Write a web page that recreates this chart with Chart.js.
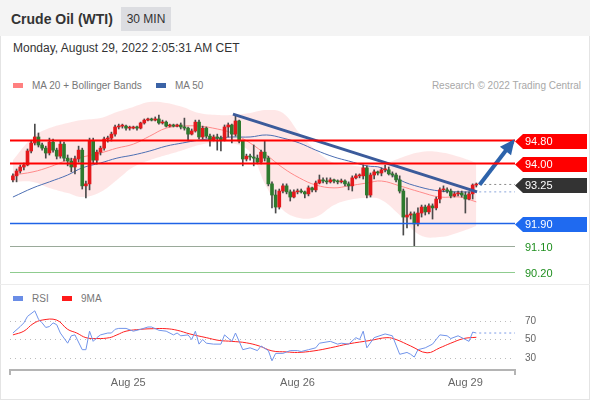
<!DOCTYPE html>
<html>
<head>
<meta charset="utf-8">
<script src="https://cdn.jsdelivr.net/npm/chart.js@4.4.0/dist/chart.umd.min.js"></script>
<style>
    body { margin: 0; width: 590px; height: 400px; background: #fff; font-family: "Liberation Sans", Arial, sans-serif; position: relative; overflow: hidden; }
    #frame { position: absolute; left: 0; top: 0; width: 588px; height: 398px; border: 1px solid #e4e4e4; }
    #head { position: absolute; left: 0; top: 0; width: 590px; height: 36px; background: #f4f4f4; }
    #title { position: absolute; left: 11px; top: 11px; font-size: 14px; font-weight: bold; color: #333; }
    #tf { position: absolute; left: 121px; top: 7px; width: 50px; height: 24px; background: #dcdde1; color: #333; font-size: 12px; line-height: 24px; text-align: center; }
    #date { position: absolute; left: 13px; top: 41px; font-size: 12px; color: #333; }
    .lg { position: absolute; font-size: 10px; color: #777; white-space: nowrap; }
    .sw { display: inline-block; width: 10px; height: 5px; margin-right: 9px; vertical-align: 1px; }
    #sep { position: absolute; left: 0; top: 284px; width: 590px; height: 1px; background: #ececec; }
    #c1 { position: absolute; left: 0; top: 95px; }
    #c2 { position: absolute; left: 0; top: 285px; }
</style>
</head>
<body>
<div id="frame"></div>
<div id="head"></div>
<div id="title">Crude Oil (WTI)</div>
<div id="tf">30 MIN</div>
<div id="date">Monday, August 29, 2022 2:05:31 AM CET</div>
<div class="lg" style="left:13px; top:80px;"><span class="sw" style="background:#ff8080"></span>MA 20 + Bollinger Bands</div>
<div class="lg" style="left:156px; top:80px;"><span class="sw" style="background:#3b63a6"></span>MA 50</div>
<div class="lg" style="right:9px; top:80px; color:#a8a8a8;">Research © 2022 Trading Central</div>
<div id="sep"></div>
<div class="lg" style="left:13px; top:293px;"><span class="sw" style="background:#6a8de6"></span>RSI</div>
<div class="lg" style="left:62px; top:293px;"><span class="sw" style="background:#ff1a1a"></span>9MA</div>
<canvas id="c1" width="590" height="190"></canvas>
<canvas id="c2" width="590" height="115"></canvas>

<script>
// 30 min candles, index 0 .. 127 (Aug 24 -> Aug 29 02:00)
const firstOpen = 93.41;
const closes = [93.55, 93.72, 93.86, 93.93, 94.42, 94.70, 94.91, 94.63, 94.52, 94.35,
    94.73, 94.45, 94.24, 94.66, 94.17, 94.07, 93.86, 94.14, 94.45, 93.20,
    93.27, 94.77, 94.10, 94.38, 94.52, 94.84, 94.87, 95.01, 95.26, 95.29,
    95.29, 95.22, 95.22, 95.26, 95.22, 95.40, 95.50, 95.54, 95.50, 95.54,
    95.40, 95.43, 95.29, 95.33, 95.29, 95.33, 95.26, 95.22, 95.01, 95.12,
    95.43, 94.91, 95.22, 94.94, 94.80, 94.91, 94.87, 94.80, 95.26, 95.33,
    95.01, 95.47, 94.77, 94.14, 94.24, 94.21, 94.17, 94.03, 94.38, 94.17,
    93.27, 92.88, 92.46, 93.02, 93.20, 92.99, 92.81, 92.99, 93.02, 92.99,
    92.92, 93.13, 93.06, 93.30, 93.41, 93.37, 93.34, 93.41, 93.37, 93.34,
    93.37, 93.27, 93.20, 93.48, 93.55, 93.55, 93.83, 92.88, 93.58, 93.69,
    93.65, 93.76, 93.76, 93.62, 93.58, 93.41, 93.02, 92.11, 92.18, 92.22,
    91.87, 92.25, 92.46, 92.29, 92.50, 92.43, 92.74, 93.06, 93.06, 93.02,
    92.85, 92.92, 92.95, 92.88, 92.74, 92.92, 93.23, 93.25];
const highs = [93.62, 93.79, 93.93, 94.00, 94.49, 94.77, 95.36, 95.05, 94.70, 94.59,
    94.87, 94.84, 94.52, 94.77, 94.73, 94.28, 94.17, 94.24, 94.59, 94.52,
    93.37, 94.87, 94.87, 94.45, 94.59, 94.91, 94.94, 95.08, 95.33, 95.36,
    95.36, 95.33, 95.29, 95.29, 95.29, 95.43, 95.54, 95.57, 95.57, 95.61,
    95.68, 95.50, 95.47, 95.36, 95.36, 95.36, 95.40, 95.57, 95.26, 95.19,
    95.50, 95.50, 95.29, 95.26, 95.01, 94.98, 95.01, 94.94, 95.33, 95.40,
    95.36, 95.68, 95.50, 94.80, 94.31, 94.31, 94.63, 94.28, 94.45, 94.77,
    94.24, 93.34, 93.06, 93.09, 93.27, 93.27, 93.06, 93.06, 93.09, 93.09,
    93.02, 93.20, 93.16, 93.37, 93.58, 93.48, 93.48, 93.48, 93.44, 93.41,
    93.44, 93.41, 93.34, 93.55, 93.62, 93.62, 93.93, 93.90, 93.65, 93.76,
    93.72, 93.83, 93.93, 93.86, 93.69, 93.65, 93.55, 93.09, 92.78, 92.29,
    92.29, 92.43, 92.53, 92.53, 92.57, 92.57, 92.81, 93.13, 93.20, 93.13,
    93.09, 92.99, 93.02, 93.02, 92.99, 92.99, 93.27, 93.30];
const lows = [93.34, 93.34, 93.65, 93.76, 93.90, 94.35, 94.63, 94.56, 94.45, 94.17,
    94.28, 94.38, 94.14, 94.17, 94.07, 93.90, 93.69, 93.62, 94.03, 93.09,
    92.78, 93.06, 94.00, 93.97, 94.28, 94.45, 94.73, 94.77, 94.94, 95.19,
    95.22, 95.15, 95.15, 95.19, 95.15, 95.19, 95.36, 95.47, 95.47, 95.47,
    95.36, 95.36, 95.26, 95.26, 95.26, 95.26, 95.19, 95.15, 94.77, 94.98,
    95.08, 94.84, 94.84, 94.87, 94.59, 94.77, 94.45, 94.42, 94.77, 94.91,
    94.70, 94.94, 94.70, 93.90, 94.07, 94.10, 93.90, 93.97, 93.97, 94.07,
    93.20, 92.43, 92.25, 92.39, 92.95, 92.92, 92.67, 92.78, 92.92, 92.95,
    92.78, 92.85, 92.99, 92.99, 93.27, 93.30, 93.27, 93.30, 93.30, 93.27,
    93.30, 93.20, 93.06, 93.02, 93.44, 93.48, 93.44, 92.78, 92.81, 93.44,
    93.58, 93.55, 93.69, 93.58, 93.51, 93.34, 92.95, 91.48, 91.73, 92.04,
    91.10, 91.80, 92.11, 92.18, 92.22, 92.04, 92.36, 92.60, 92.99, 92.95,
    92.78, 92.81, 92.85, 92.81, 92.25, 92.71, 92.74, 93.16];

// indicator curves at these candle positions
const bandIdx = [0, 5.5, 10, 15, 19, 24, 28.5, 33, 37.5, 42, 46.5, 51, 56, 60, 65, 69.5, 74, 78.5, 83, 88, 92, 97, 101, 106, 111.5, 117, 122.5, 127];
const bbUpper = [94.10, 94.91, 95.22, 95.40, 95.50, 95.57, 95.78, 95.96, 96.13, 96.10, 95.96, 95.75, 95.68, 95.68,
    95.75, 95.85, 95.75, 95.05, 94.45, 94.00, 93.93, 93.86, 93.93, 94.17, 94.38, 94.38, 94.21, 94.00];
const bbLower = [93.34, 93.34, 93.13, 92.95, 92.81, 92.99, 93.41, 93.86, 94.10, 94.28, 94.45, 94.63, 94.73, 94.70,
    94.38, 93.16, 92.36, 92.08, 92.11, 92.53, 92.71, 92.78, 92.71, 92.18, 91.48, 91.41, 91.59, 91.80];
const ma20 = [93.58, 93.69, 93.86, 94.10, 94.21, 94.35, 94.52, 94.66, 94.94, 95.22, 95.29, 95.29, 95.19, 95.05,
    94.70, 94.28, 93.83, 93.48, 93.23, 93.13, 93.20, 93.30, 93.37, 93.20, 92.99, 92.81, 92.81, 92.64];
const ma50 = [92.81, 93.13, 93.34, 93.58, 93.83, 94.00, 94.17, 94.28, 94.42, 94.59, 94.70, 94.80, 94.87, 94.91,
    94.91, 94.98, 94.87, 94.70, 94.45, 94.21, 94.07, 93.90, 93.83, 93.41, 93.16, 93.02, 92.99, 92.99];

const trendIdx = [60.3, 127.2];
const trendVals = [95.71, 92.99];
const arrowIdx = [127.9, 137.0];
const arrowVals = [93.24, 94.75];

const levelVals = [94.80, 94.00, 91.90, 91.10, 90.20];

// RSI panel
const rsiIdx = [0, 2, 3, 4, 6, 7, 8, 9, 10, 11, 12, 13, 15, 16, 17, 19, 20, 21, 22, 23, 24, 26, 27, 28, 29, 31, 33, 35, 37, 38,
    40, 42, 44, 45, 46, 48, 49, 50, 51, 52, 53, 55, 57, 58, 60, 61, 63, 65, 67, 68, 70, 71, 72, 74, 76, 78, 79, 81, 83, 84,
    87, 89, 90, 92, 94, 95, 96, 97, 99, 102, 104, 106, 108, 109, 110, 111, 113, 115, 117, 119, 120, 122, 124, 125, 126, 127];
const rsiVals = [57, 64, 68, 75, 81, 72, 68, 63, 64, 68, 66, 57, 46, 54, 55, 39, 39, 59, 48, 52, 55, 57, 57, 61, 62, 62, 59, 61, 63.5, 63.5,
    60, 59, 55, 57, 54, 55, 50, 59, 45, 50, 46, 45, 45, 55, 48, 57, 39, 41, 38, 43, 38, 27, 35, 35, 38, 38, 37, 39, 41, 46,
    48, 45, 46, 45, 52, 50, 59, 41, 52, 56, 54, 34, 36, 34, 31, 39, 41, 45, 55, 54, 51, 54, 50, 48, 58, 57];
const ma9Idx = [0, 3, 5.5, 8, 12, 15, 17.5, 20, 23, 26.5, 28.5, 31, 35, 38.5, 42, 45, 48.5, 53, 56.5, 60, 64, 67.5, 71, 75, 78,
    82.5, 87, 92, 98, 102.5, 105, 109, 113.5, 117, 120, 123.5, 127];
const ma9Vals = [55, 59, 67, 71, 71, 61, 57, 52, 51, 52, 55, 59, 61, 61.7, 61.7, 60, 56, 52, 49, 48, 46.4, 43, 37.7, 36.6, 36,
    37.7, 41, 45.3, 49, 52, 50, 43, 35.6, 41, 46, 51, 52.4];
const rsiTicks = [30, 50, 70];

const dayIdx = [31.6, 78, 124];
const dayLabels = ['Aug 25', 'Aug 26', 'Aug 29'];

// ------------------------------------------------------------------
Chart.defaults.font.family = '"Liberation Sans", Arial, sans-serif';
Chart.defaults.animation = false;

const xMin = -0.8, xMax = 137.6;
const opens = closes.map((c, i) => i === 0 ? firstOpen : closes[i - 1]); // session is continuous
const lastI = closes.length - 1;
const lastClose = closes[lastI];
const pts = (idx, vals) => idx.map((x, k) => ({ x: x, y: vals[k] }));
const flat = (v) => [{ x: lastI + 0.8, y: v }, { x: xMax, y: v }];

const UP = '#e3191c', DOWN = '#2e7a2e';

const levelStyle = [
    { line: '#ff0000', width: 2, tag: '#ff0000' },
    { line: '#ff0000', width: 2, tag: '#ff0000' },
    { line: '#1f63e6', width: 1.5, tag: '#1f6af0' },
    { line: '#9aaa9a', width: 1, tag: null },
    { line: '#8fcc8f', width: 1, tag: null },
];

function drawTag(ctx, x, y, txt, bg, fg) {
    if (bg) {
        ctx.fillStyle = bg;
        ctx.beginPath();
        ctx.moveTo(x, y);
        ctx.lineTo(x + 8, y - 7.5);
        ctx.lineTo(x + 72, y - 7.5);
        ctx.lineTo(x + 72, y + 7.5);
        ctx.lineTo(x + 8, y + 7.5);
        ctx.closePath();
        ctx.fill();
    }
    ctx.fillStyle = fg;
    ctx.font = '11px "Liberation Sans", Arial, sans-serif';
    ctx.textAlign = 'left';
    ctx.textBaseline = 'middle';
    ctx.fillText(txt, x + 10, y + 0.5);
}

const levelPlugin = {
    id: 'levels',
    afterDatasetsDraw(chart) {
        const { ctx, chartArea: a, scales: { y } } = chart;
        ctx.save();
        levelVals.forEach((v, k) => {
            const py = Math.round(y.getPixelForValue(v)) + 0.5;
            const s = levelStyle[k];
            ctx.strokeStyle = s.line;
            ctx.lineWidth = s.width;
            ctx.beginPath();
            ctx.moveTo(a.left, py);
            ctx.lineTo(a.right, py);
            ctx.stroke();
            drawTag(ctx, a.right, py + 1, v.toFixed(2), s.tag, s.tag ? '#fff' : '#1f8f1f');
        });
        // last price tag
        drawTag(ctx, a.right, y.getPixelForValue(lastClose) + 1, lastClose.toFixed(2), '#333', '#fff');

        // arrow head
        const pts = chart.getDatasetMeta(8).data;
        const p0 = pts[0], p1 = pts[1];
        const ang = Math.atan2(p1.y - p0.y, p1.x - p0.x);
        ctx.fillStyle = '#2d63ab';
        ctx.beginPath();
        ctx.moveTo(p1.x + 3 * Math.cos(ang), p1.y + 3 * Math.sin(ang));
        ctx.lineTo(p1.x - 12 * Math.cos(ang) + 7 * Math.sin(ang), p1.y - 12 * Math.sin(ang) - 7 * Math.cos(ang));
        ctx.lineTo(p1.x - 12 * Math.cos(ang) - 7 * Math.sin(ang), p1.y - 12 * Math.sin(ang) + 7 * Math.cos(ang));
        ctx.closePath();
        ctx.fill();
        ctx.restore();
    }
};

const lineDs = (data, color, width, order, extra) => Object.assign({
    type: 'line', data: data, borderColor: color, borderWidth: width,
    pointRadius: 0, fill: false, tension: 0, order: order
}, extra || {});

new Chart(document.getElementById('c1'), {
    type: 'bar',
    data: {
        datasets: [
            lineDs(pts(bandIdx, bbUpper), 'rgba(0,0,0,0)', 0, 10, { fill: '+1', backgroundColor: 'rgba(250,110,110,0.17)', tension: 0.4 }),
            lineDs(pts(bandIdx, bbLower), 'rgba(0,0,0,0)', 0, 10, { tension: 0.4 }),
            lineDs(pts(bandIdx, ma50), '#4d6fb3', 1, 8, { tension: 0.4 }),
            lineDs(pts(bandIdx, ma20), '#ff8a8a', 1, 8, { tension: 0.4 }),
            {
                type: 'bar', order: 5, grouped: false, barThickness: 1,
                data: closes.map((c, i) => ({ x: i, y: [lows[i], highs[i]] })),
                backgroundColor: '#4a4a4a'
            },
            {
                type: 'bar', order: 4, grouped: false, barThickness: 3, minBarLength: 1,
                data: closes.map((c, i) => ({ x: i, y: [opens[i], c] })),
                backgroundColor: (ctx) => closes[ctx.dataIndex] >= opens[ctx.dataIndex] ? UP : DOWN
            },
            lineDs(flat(lastClose), '#8a8a8a', 1, 3, { borderDash: [2, 3] }),
            lineDs(pts(trendIdx, trendVals), '#3b5b9b', 3, 2),
            lineDs(pts(arrowIdx, arrowVals), '#2d63ab', 4, 1),
            lineDs(flat(ma50[ma50.length - 1]), '#8aa5db', 1, 3, { borderDash: [2, 3] }),
        ]
    },
    options: {
        responsive: false,
        events: [],
        layout: { padding: { left: 10, right: 75, top: 5, bottom: 3 } },
        plugins: { legend: false, tooltip: false },
        scales: {
            x: { type: 'linear', min: xMin, max: xMax, offset: false, display: false },
            y: { min: 89.839, max: 96.203, display: false },
        },
    },
    plugins: [levelPlugin],
});

// RSI
const xTickVals = [xMin, ...dayIdx, xMax];
new Chart(document.getElementById('c2'), {
    type: 'line',
    data: {
        datasets: [
            lineDs(pts(ma9Idx, ma9Vals), '#ff2020', 1, 2, { tension: 0.4 }),
            lineDs(pts(rsiIdx, rsiVals), '#7194ea', 1, 1),
            lineDs(flat(rsiVals[rsiVals.length - 1]), '#7d9be6', 1, 1, { borderDash: [2, 3] }),
        ]
    },
    options: {
        responsive: false,
        events: [],
        layout: { padding: { left: 10, right: 0, top: 20, bottom: 0 } },
        plugins: { legend: false, tooltip: false },
        scales: {
            x: {
                type: 'linear', min: xMin, max: xMax, offset: false,
                afterBuildTicks: (s) => { s.ticks = xTickVals.map(v => ({ value: v })); },
                afterFit: (s) => { s.height = 30; },
                ticks: {
                    autoSkip: false, maxRotation: 0, padding: 1, color: '#666',
                    font: { size: 11 },
                    callback: (v) => { const k = dayIdx.indexOf(v); return k >= 0 ? dayLabels[k] : ''; }
                },
                grid: {
                    drawOnChartArea: false, tickLength: 5, lineWidth: 2,
                    color: (c) => c.tick && (c.tick.value === xMin || c.tick.value === xMax) ? '#b4b4b4' : 'rgba(0,0,0,0)'
                },
                border: { color: '#b4b4b4', width: 2 },
            },
            y: {
                position: 'right', min: 17.03, max: 87.3,
                afterBuildTicks: (s) => { s.ticks = rsiTicks.map(v => ({ value: v })); },
                afterFit: (s) => { s.width = 75; },
                ticks: { color: '#666', padding: 10, font: { size: 10 } },
                grid: { color: '#bdbdbd', drawTicks: false },
                border: { display: false, dash: [1, 4] },
            },
        },
    },
});
</script>
</body>
</html>
